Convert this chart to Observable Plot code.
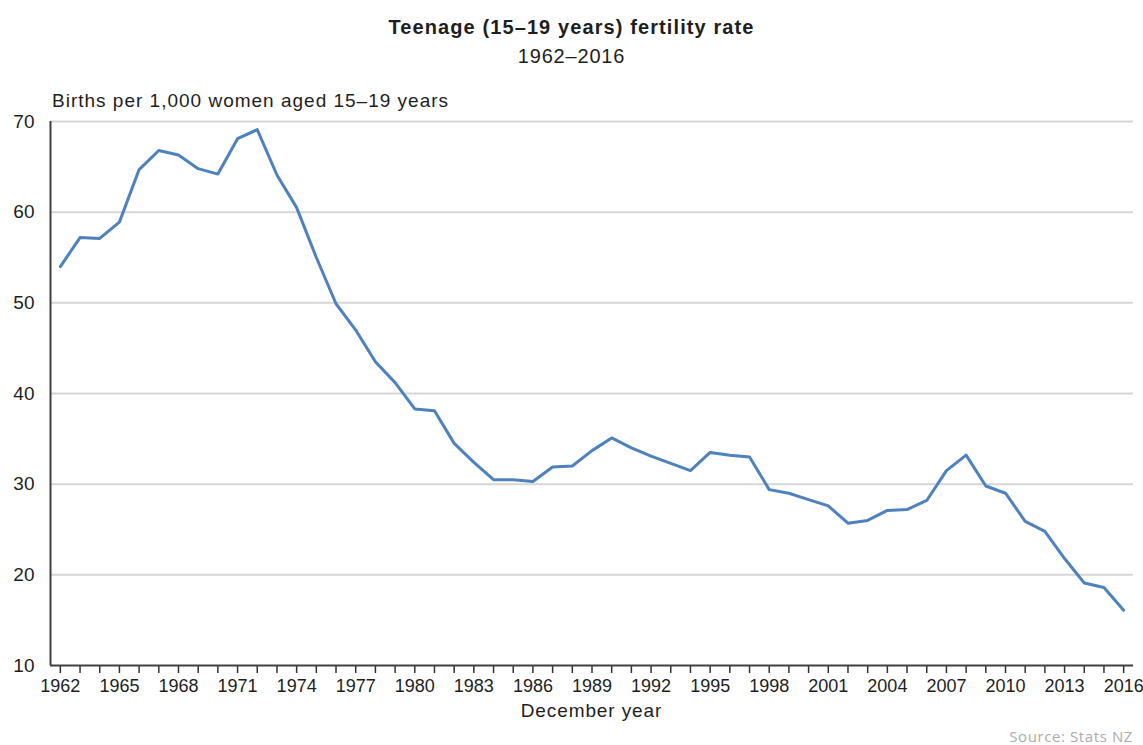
<!DOCTYPE html>
<html>
<head>
<meta charset="utf-8">
<script src="https://cdn.jsdelivr.net/npm/d3@7"></script>
<script src="https://cdn.jsdelivr.net/npm/@observablehq/plot@0.6"></script>
<style>
  html, body { margin: 0; padding: 0; background: #fff; }
  #wrap { position: relative; width: 1143px; height: 745px; overflow: hidden; font-family: "Liberation Sans", Arial, sans-serif; color: #1e1e1e; }
  .abs { position: absolute; white-space: nowrap; line-height: normal; z-index: 2; }
  #title { top: 16px; left: 0; width: 1143px; text-align: center; font-size: 20px; font-weight: bold; letter-spacing: 1.1px; }
  #subtitle { top: 45px; left: 0; width: 1143px; text-align: center; font-size: 20px; letter-spacing: 0.8px; }
  #ylabel { top: 90px; left: 52px; font-size: 19px; letter-spacing: 1px; }
  #xlabel { top: 700px; left: 50px; width: 1083px; text-align: center; font-size: 19px; letter-spacing: 0.9px; }
  #source { top: 726px; right: 10px; font-family: "Open Sans", sans-serif; font-size: 15px; color: #ababab; letter-spacing: 0.6px; }
  #chart { position: absolute; top: 70px; left: 0; z-index: 1; }
</style>
</head>
<body>
<div id="wrap">
  <div id="chart"></div>
  <div id="title" class="abs">Teenage (15–19 years) fertility rate</div>
  <div id="subtitle" class="abs">1962–2016</div>
  <div id="ylabel" class="abs">Births per 1,000 women aged 15–19 years</div>
  <div id="xlabel" class="abs">December year</div>
  <div id="source" class="abs">Source: Stats NZ</div>
</div>
<script>
const years = [1962,1963,1964,1965,1966,1967,1968,1969,1970,1971,1972,1973,1974,1975,1976,1977,1978,1979,1980,1981,1982,1983,1984,1985,1986,1987,1988,1989,1990,1991,1992,1993,1994,1995,1996,1997,1998,1999,2000,2001,2002,2003,2004,2005,2006,2007,2008,2009,2010,2011,2012,2013,2014,2015,2016];
const rates = [54.0,57.2,57.1,58.9,64.7,66.8,66.3,64.8,64.2,68.1,69.1,64.1,60.5,55.0,49.9,47.0,43.5,41.2,38.3,38.1,34.5,32.4,30.5,30.5,30.3,31.9,32.0,33.7,35.1,34.0,33.1,32.3,31.5,33.5,33.2,33.0,29.4,29.0,28.3,27.6,25.7,26.0,27.1,27.2,28.2,31.5,33.2,29.8,29.0,25.9,24.8,21.8,19.1,18.6,16.1];
const yTicks = [10,20,30,40,50,60,70];
const labelEvery = 3;

const data = years.map((year, i) => ({year, rate: rates[i]}));
const first = years[0], last = years[years.length - 1];

const chart = Plot.plot({
  width: 1143,
  height: 660,
  marginLeft: 50,
  marginRight: 10,
  marginTop: 51,
  marginBottom: 65,
  style: {fontFamily: "'Liberation Sans', Arial, sans-serif", fontSize: "19px", color: "#1e1e1e", background: "white"},
  x: {domain: [first - 0.5, last + 0.5], label: null},
  y: {domain: [yTicks[0], yTicks[yTicks.length - 1]], label: null},
  marks: [
    Plot.ruleY(yTicks.slice(1), {stroke: "#d6d6d6", strokeWidth: 2}),
    Plot.axisY({ticks: yTicks, tickSize: 0, tickPadding: 16, label: null, fontSize: 19}),
    Plot.axisX({ticks: years, tickSize: 8, tickPadding: 6, label: null, fontSize: 18,
      tickFormat: d => (d - first) % labelEvery === 0 ? String(d) : "",
      stroke: "#333", strokeWidth: 1.5}),
    Plot.line(data, {x: "year", y: "rate", stroke: "#4f81bd", strokeWidth: 3, strokeLinejoin: "round"}),
    Plot.ruleX([first - 0.5], {stroke: "#404040", strokeWidth: 2}),
    Plot.ruleY([yTicks[0]], {stroke: "#404040", strokeWidth: 2})
  ]
});
document.getElementById("chart").appendChild(chart);
</script>
</body>
</html>
